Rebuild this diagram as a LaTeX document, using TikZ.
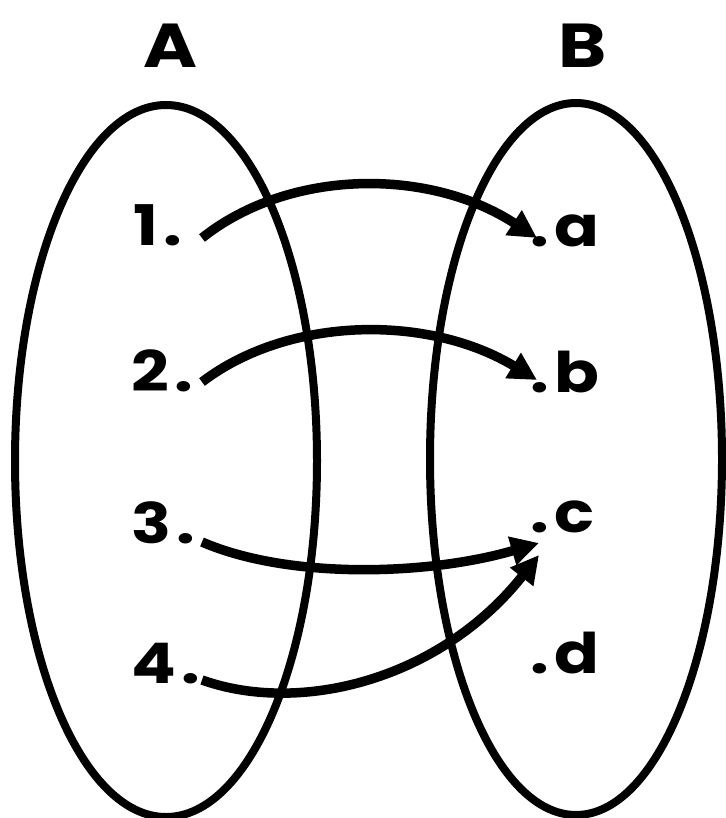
\documentclass[tikz,border=0pt]{standalone}
\usepackage{fontspec}
\setmainfont{Poppins}
\newfontfamily\widefont[FakeStretch=1.18,LetterSpace=10]{Poppins}
\usetikzlibrary{arrows.meta,shapes.geometric}
\begin{document}
\begin{tikzpicture}[x=1pt,y=-1pt,
  setlabel/.style={font=\widefont\fontsize{62}{62}\selectfont\bfseries, anchor=base, inner sep=0pt},
  elemlabel/.style={font=\widefont\fontsize{56}{56}\selectfont\bfseries, anchor=base west, inner sep=0pt},
  setshape/.style={draw=black, line width=8pt},
  maparrow/.style={draw=black, line width=9.5pt, -{Triangle[length=28pt,width=28pt]}, shorten >=0pt}]
\useasboundingbox (0,0) rectangle (725,818);
\node[setshape, ellipse, minimum width=302pt, minimum height=712pt, inner sep=0pt] (setA) at (166,461) {};
\node[setshape, ellipse, minimum width=292pt, minimum height=712pt, inner sep=0pt] (setB) at (576,459) {};
\node[setlabel] (labA) at (170,68) {A};
\node[setlabel] (labB) at (583,68) {B};
\node[elemlabel] (n1) at (133,245) {1.};
\node[elemlabel] (n2) at (131,391) {2.};
\node[elemlabel] (n3) at (131,543) {3.};
\node[elemlabel] (n4) at (131,683) {4.};
\node[elemlabel] (ea) at (530,247) {.a};
\node[elemlabel] (eb) at (530,392) {.b};
\node[elemlabel] (ec) at (530,532) {.c};
\node[elemlabel] (ed) at (530,673) {.d};
\coordinate (s1) at (202,238);
\coordinate (s2) at (202,382);
\coordinate (s3) at (202,542);
\coordinate (s4) at (202,680);
\coordinate (t1) at (537,238);
\coordinate (t2) at (537,380);
\coordinate (t3) at (539,543);
\coordinate (t4) at (539,555);
\draw[maparrow] (s1) .. controls (290,168) and (430,168) .. (t1);
\draw[maparrow] (s2) .. controls (290,315) and (430,315) .. (t2);
\draw[maparrow] (s3) .. controls (290,580) and (430,575) .. (t3);
\draw[maparrow] (s4) .. controls (300,715) and (440,680) .. (t4);
\end{tikzpicture}
\end{document}
